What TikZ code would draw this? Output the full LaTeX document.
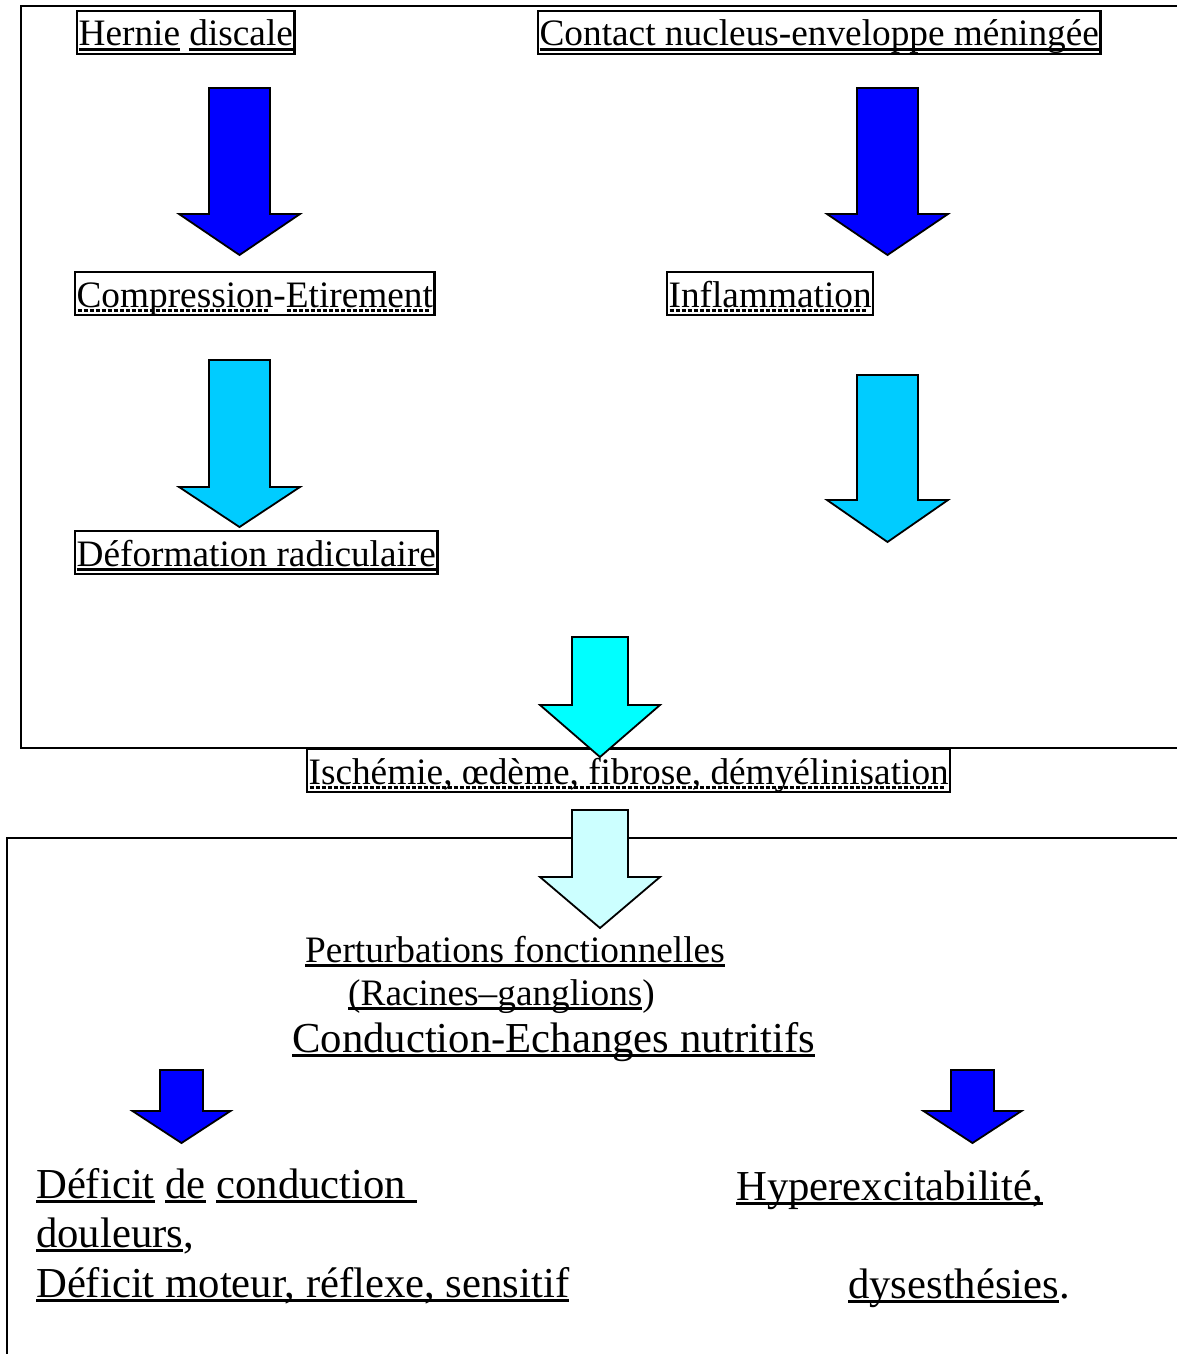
\documentclass[tikz,border=0pt]{standalone}
\usepackage{fontspec}
\setmainfont[Ligatures=NoCommon]{Liberation Serif}
\newsavebox\ulbox
\newcommand\ul[1]{\sbox\ulbox{#1}\rlap{\rule[-5.2pt]{\wd\ulbox}{2.8pt}}\usebox\ulbox}
\newcommand\dul[1]{\sbox\ulbox{#1}\rlap{\raisebox{-5.2pt}{\hbox to \wd\ulbox{\leaders\hbox to 6pt{\hss\rule{4pt}{2.8pt}\hss}\hfill}}}\usebox\ulbox}
\newcommand\blockarrow[7]{% fill, xc, top, shaft half, head y, head half, tip
  \filldraw[arrowbody, fill=#1] ({#2-#4},#3) -- ({#2+#4},#3) -- ({#2+#4},#5) -- ({#2+#6},#5)
    -- (#2,#7) -- ({#2-#6},#5) -- ({#2-#4},#5) -- cycle;}
\definecolor{blueA}{RGB}{0,0,255}
\definecolor{blueB}{RGB}{0,204,255}
\definecolor{cyanC}{RGB}{0,255,255}
\definecolor{cyanD}{RGB}{204,255,255}
\tikzset{
  frame/.style={line width=2.4pt},
  arrowbody/.style={draw=black, line width=1.8pt, line join=miter},
  tbox/.style={draw, line width=2.2pt, inner xsep=1.5pt, inner ysep=0pt, text height=35pt, text depth=8pt,
    anchor=base west, font=\fontsize{37.3}{44}\selectfont},
  plain/.style={inner sep=0pt, anchor=base west, font=\fontsize{37.3}{44}\selectfont},
  big/.style={inner sep=0pt, anchor=base west, font=\fontsize{42.7}{48}\selectfont},
}
\begin{document}
\begin{tikzpicture}[x=1pt, y=-1pt]
\useasboundingbox (0,0) rectangle (1177,1354);
% frames
\draw[frame] (1180,6) -- (21,6) -- (21,748) -- (1180,748);
\draw[frame] (1180,838) -- (7,838) -- (7,1360);
% boxed labels
\node[tbox] (hernie) at (76,46) {\ul{Hernie} \ul{discale}};
\node[tbox] (contact) at (537,46) {\ul{Contact nucleus-enveloppe méningée}};
\node[tbox] (compression) at (74,307) {\dul{Compression}-\dul{Etirement}};
\node[tbox] (inflammation) at (666,307) {\dul{Inflammation}};
\node[tbox] (deformation) at (74,566) {\ul{Déformation radiculaire}};
\node[tbox] (ischemie) at (306,784) {\dul{Ischémie, œdème, fibrose, démyélinisation}};
% lower texts
\node[plain] (perturb) at (305,962) {\ul{Perturbations fonctionnelles}};
\node[plain] (racines) at (348,1005) {\ul{(Racines–ganglions})};
\node[big] (conduction) at (292,1052) {\ul{Conduction-Echanges nutritifs}};
\node[big] (deficitA) at (36,1198) {\ul{Déficit} \ul{de} \ul{conduction~}};
\node[big] (douleurs) at (36,1247) {\ul{douleurs},};
\node[big] (deficitB) at (36,1297) {\ul{Déficit moteur, réflexe, sensitif}};
\node[big] (hyper) at (736,1200) {\ul{Hyperexcitabilité,}};
\node[big] (dys) at (848,1298) {\ul{dysesthésies}.};
% block arrows
\blockarrow{blueA}{239.5}{88}{30.5}{214}{60.5}{255}
\blockarrow{blueA}{887.5}{88}{30.5}{214}{60.5}{255}
\blockarrow{blueB}{239.5}{360}{30.5}{487}{60.5}{527}
\blockarrow{blueB}{887.5}{375}{30.5}{500}{60.5}{542}
\blockarrow{cyanC}{600}{637}{28}{705}{60}{757}
\blockarrow{cyanD}{600}{810}{28}{877}{60}{928}
\blockarrow{blueA}{181.5}{1070}{21.5}{1111}{49}{1143}
\blockarrow{blueA}{972.5}{1070}{21.5}{1111}{49}{1143}
\end{tikzpicture}
\end{document}
